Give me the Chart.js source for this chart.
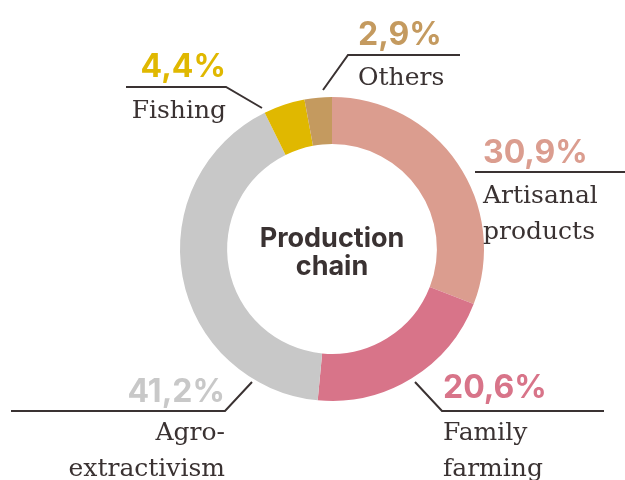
<!DOCTYPE html>
<html>
<head>
<meta charset="utf-8">
<script src="https://cdn.jsdelivr.net/npm/chart.js@4"></script>
<style>
  html, body { margin: 0; padding: 0; background: #fff; }
  #wrap { width: 625px; height: 480px; position: relative; }
</style>
</head>
<body>
<div id="wrap"><canvas id="chart" width="625" height="480"></canvas></div>
<script>
// data
const categories = ['Artisanal products', 'Family farming', 'Agro-extractivism', 'Fishing', 'Others'];
const shares = [30.9, 20.6, 41.2, 4.4, 2.9];
const sliceColors = ['#db9d8f', '#d87489', '#c8c8c8', '#e0b800', '#c49a5f'];
const labelLines = [['Artisanal', 'products'], ['Family', 'farming'], ['Agro-', 'extractivism'], ['Fishing'], ['Others']];
const centerTitle = ['Production', 'chain'];

// where each callout sits (leader path, text anchor, alignment)
const callouts = [
  { path: [[475, 172], [625, 172]], x: 483, pctY: 163, textY: 203, align: 'left' },
  { path: [[415, 382], [442, 411], [604, 411]], x: 443, pctY: 398, textY: 440, align: 'left' },
  { path: [[252, 382], [225, 411], [11, 411]], x: 225, pctY: 402, textY: 440, align: 'right' },
  { path: [[262, 108], [226, 87], [126, 87]], x: 226, pctY: 77, textY: 118, align: 'right' },
  { path: [[323, 90], [348, 55], [460, 55]], x: 358, pctY: 45, textY: 85, align: 'left' }
];

const darkText = '#3a3232';

function fmtPct(v) {
  return v.toFixed(1).replace('.', ',') + '%';
}

const calloutPlugin = {
  id: 'callouts',
  afterDraw(chart) {
    const ctx = chart.ctx;
    const meta = chart.getDatasetMeta(0);
    ctx.save();

    // center title
    const arc = meta.data[0];
    ctx.fillStyle = darkText;
    ctx.font = '700 27px Inter';
    ctx.textAlign = 'center';
    ctx.textBaseline = 'alphabetic';
    ctx.fillText(centerTitle[0], arc.x, arc.y - 2);
    ctx.fillText(centerTitle[1], arc.x, arc.y + 26);

    callouts.forEach((c, i) => {
      ctx.strokeStyle = darkText;
      ctx.lineWidth = 2;
      ctx.beginPath();
      c.path.forEach((p, j) => (j ? ctx.lineTo(p[0], p[1]) : ctx.moveTo(p[0], p[1])));
      ctx.stroke();

      ctx.textAlign = c.align;
      ctx.fillStyle = sliceColors[i];
      ctx.font = '700 32px Inter';
      ctx.fillText(fmtPct(shares[i]), c.x, c.pctY);

      ctx.fillStyle = darkText;
      ctx.font = '25px "DejaVu Serif"';
      labelLines[i].forEach((line, k) => {
        ctx.fillText(line, c.x, c.textY + k * 36);
      });
    });
    ctx.restore();
  }
};

new Chart(document.getElementById('chart'), {
  type: 'doughnut',
  data: {
    labels: categories,
    datasets: [{
      data: shares,
      backgroundColor: sliceColors,
      borderWidth: 0
    }]
  },
  options: {
    responsive: false,
    animation: false,
    cutout: '69%',
    layout: { padding: { left: 180, right: 141, top: 97, bottom: 79 } },
    plugins: {
      legend: { display: false },
      tooltip: { enabled: false }
    }
  },
  plugins: [calloutPlugin]
});
</script>
</body>
</html>
